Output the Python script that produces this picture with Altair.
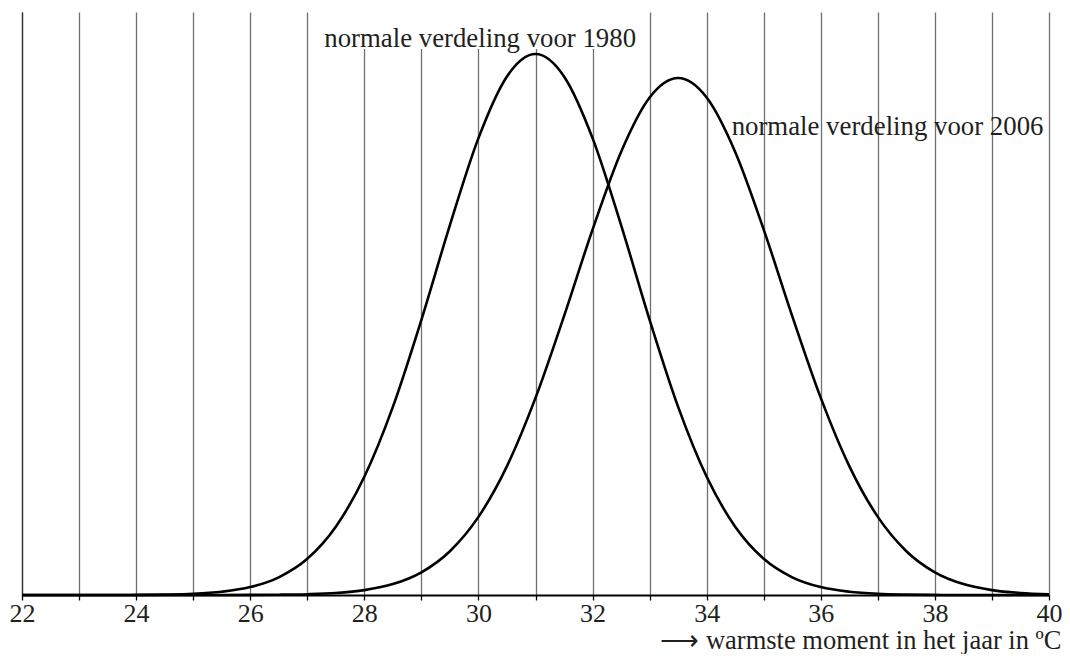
import altair as alt
import pandas as pd

# temperature grid (x) and curve heights
temps = [22, 22.5, 23, 23.5, 24, 24.5, 25, 25.5, 26, 26.5,
         27, 27.5, 28, 28.5, 29, 29.5, 30, 30.5, 31, 31.5,
         32, 32.5, 33, 33.5, 34, 34.5, 35, 35.5, 36, 36.5,
         37, 37.5, 38, 38.5, 39, 39.5, 40]
dens_1980 = [0, 0, 0, 0, 0.1, 0.4, 1.2, 3.3, 7.9, 17.7,
             36.2, 68.3, 118.2, 188.1, 275.2, 369.9, 456.9, 518.6, 541, 518.6,
             456.9, 369.9, 275.2, 188.1, 118.2, 68.3, 36.2, 17.7, 7.9, 3.3,
             1.2, 0.4, 0.1, 0, 0, 0, 0]
dens_2006 = [0, 0, 0, 0, 0, 0, 0, 0, 0.1, 0.3,
             0.8, 2.0, 4.9, 10.9, 22.7, 43.8, 78.1, 128.9, 197.1, 278.9,
             365.4, 443.1, 497.5, 517, 497.5, 443.1, 365.4, 278.9, 197.1, 128.9,
             78.1, 43.8, 22.7, 10.9, 4.9, 2.0, 0.8]

tick_values = list(range(22, 41))

label_text = ["normale verdeling voor 1980", "normale verdeling voor 2006"]
label_x = [30.03, 37.17]
label_y = [556, 468]

box_x = [27.15]
box_x2 = [32.8]
box_y = [583]
box_y2 = [546]

FONT = "Liberation Serif"
TXT = "#231f20"

df = pd.DataFrame({
    "temp": temps * 2,
    "dens": dens_1980 + dens_2006,
    "jaar": ["1980"] * len(temps) + ["2006"] * len(temps),
})
labels = pd.DataFrame({"text": label_text, "x": label_x, "y": label_y})
box = pd.DataFrame({"x": box_x, "x2": box_x2, "y": box_y, "y2": box_y2})

xscale = alt.Scale(domain=[22, 40], nice=False, zero=False)
yscale = alt.Scale(domain=[0, 583], nice=False, zero=True)

xaxis = alt.Axis(
    values=tick_values, format="d",
    labelExpr="datum.value % 2 == 0 ? datum.label : ''",
    grid=True, gridColor="#707070", gridWidth=1.3,
    domainColor="#000000", domainWidth=2,
    tickColor="#000000", tickSize=5, tickWidth=1.3,
    labelFont=FONT, labelFontSize=26, labelColor=TXT, labelPadding=0,
    labelFlush=False, labelOverlap=False,
    title="⟶ warmste moment in het jaar in ºC",
    titleFont=FONT, titleFontSize=26.5, titleFontWeight="normal", titleColor=TXT,
    titleAnchor="end", titleAlign="right", titleX=1039, titleY=53,
    titleBaseline="alphabetic",
)
yaxis = alt.Axis(labels=False, ticks=False, grid=False, title=None,
                 domainColor="#333333", domainWidth=1.3)

lines = alt.Chart(df).mark_line(color="black", strokeWidth=2.6, interpolate="monotone").encode(
    x=alt.X("temp:Q", scale=xscale, axis=xaxis),
    y=alt.Y("dens:Q", scale=yscale, axis=yaxis),
    detail="jaar:N",
)

bg = alt.Chart(box).mark_rect(color="white").encode(
    x="x:Q", x2="x2", y="y:Q", y2="y2",
)

text = alt.Chart(labels).mark_text(
    font=FONT, fontSize=26.8, color=TXT, align="center", baseline="middle"
).encode(x="x:Q", y="y:Q", text="text:N")

chart = alt.layer(bg, lines, text).properties(
    width=1027, height=583,
    autosize=alt.AutoSizeParams(type="none"),
    padding={"left": 14, "top": 4, "right": 13, "bottom": 59},
).configure_view(stroke=None)

chart.save("out.html", embed_options={"renderer": "svg", "actions": False})
